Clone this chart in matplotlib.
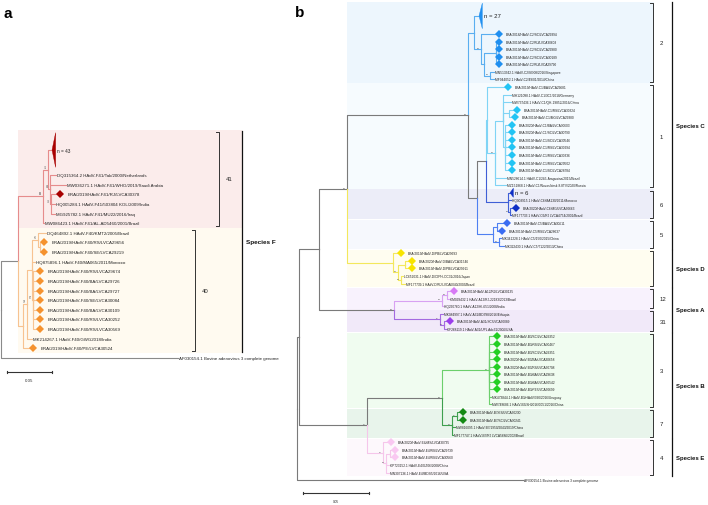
import re

import matplotlib.pyplot as plt
from matplotlib.patches import Polygon, Rectangle

plt.rcParams['font.family'] = ['Liberation Sans', 'DejaVu Sans']

# ---------------------------------------------------------------
# trees (Newick, branch lengths in substitutions/site, support after ')')
outgroup = 'AF030154.1 Bovine adenovirus 3 complete genome'

F41 = ("((n = 43:0.0044,"
       "(DQ315364.2 HAdV-F41/Tak/2000/Netherlands:0.0067,"
       "MW036271.1 HAdV-F41/WHO/2019/Saudi Arabia:0.0178,"
       "(BRA/2019/HAdV-F41/RJ/LVCA30378:0.0100,"
       "HQ005284.1 HAdV-F41/503804 KOL/2009/India:0.0044,"
       "MG925782.1 HAdV-F41/MU22/2016/Iraq:0.0044)73:0.0011)81:0.0022)71:0.0056,"
       "MW086423.1 HAdV-F41/AL-AD5460/2001/Brazil:0.0011)96")

F40 = ("((((DQ464892.1 HAdV-F40/KMT2/2005/Brazil:0.0089,"
       "(BRA/2019/HAdV-F40/RS/LVCA29656:0.0044,BRA/2019/HAdV-F40/SE/LVCA29219:0.0044):0.0022)76:0.0067,"
       "HQ875896.1 HAdV-F40/MA065/2011/Morocco:0.0033,"
       "(BRA/2019/HAdV-F40/RS/LVCA29674:0.0078,BRA/2019/HAdV-F40/BA/LVCA29726:0.0078,"
       "BRA/2019/HAdV-F40/BA/LVCA29727:0.0078,BRA/2019/HAdV-F40/SE/LVCA30084:0.0078,"
       "BRA/2019/HAdV-F40/BA/LVCA30109:0.0078,BRA/2019/HAdV-F40/RS/LVCA30252:0.0078,"
       "BRA/2019/HAdV-F40/RS/LVCA30569:0.0078)87:0.0011):0.0056,"
       "MK214267.1 HAdV-F40/GWG2018/India:0.0056)97:0.0044,"
       "BRA/2019/HAdV-F40/PE/LVCA30524:0.0111)")

C2 = ("(n = 27:0.0038,"
      "(BRA/2018/HAdV-C2/SC/LVCA29394:0.0136,"
      "((BRA/2019/HAdV-C2/RJ/LVCA30603:0.0023,BRA/2019/HAdV-C2/SC/LVCA29980:0.0023,"
      "BRA/2019/HAdV-C2/SC/LVCA30189:0.0023,BRA/2019/HAdV-C2/RJ/LVCA29790:0.0023):0.0091,"
      "(MN513342.1 HAdV-C2/SG08/2016/Singapore:0.0030,"
      "MF944052.1 HAdV-C2/49/01/2014/China:0.0030)99:0.0045):0.0023)99:0.0053)")

C1 = ("(BRA/2019/HAdV-C1/BA/LVCA29681:0.0159,"
      "((MH121098.1 HAdV-C1/3C1/2018/Germany:0.0061,"
      "MW737436.1 HAdV-C1/QH-19852/2016/China:0.0061,"
      "(BRA/2019/HAdV-C1/RS/LVCA30324:0.0061,BRA/2019/HAdV-C1/MG/LVCA29380:0.0045):0.0045,"
      "(BRA/2020/HAdV-C1/BA/LVCA30603:0.0053,BRA/2020/HAdV-C1/SC/LVCA30790:0.0053,"
      "BRA/2019/HAdV-C1/SC/LVCA30546:0.0053,BRA/2019/HAdV-C1/RS/LVCA30294:0.0053,"
      "BRA/2019/HAdV-C1/RS/LVCA30336:0.0053,BRA/2019/HAdV-C1/RS/LVCA29502:0.0053,"
      "BRA/2019/HAdV-C1/SC/LVCA28784:0.0053):0.0015):0.0061,"
      "MN528614.1 HAdV-C1/245-Araguaina/2015/Brazil:0.0083,"
      "MZ151868.1 HAdV-C1/Novosibirsk-8.8TV/2020/Russia:0.0083)99:0.0061)")

C6 = ("(n = 6:0.0015,HQ003915.1 HAdV-C6/MA130/2011/Morocco:0.0023,"
      "(BRA/2020/HAdV-C6/MG/LVCA30663:0.0045,"
      "MF177733.1 HAdV-C6/RJ LVCA4754/2001/Brazil:0.0008)99:0.0015)")

C5 = ("((BRA/2019/HAdV-C5/BA/LVCA30611:0.0076,BRA/2019/HAdV-C5/RS/LVCA28637:0.0038):0.0030,"
      "(MK341228.1 HAdV-C5/150/2015/China:0.0015,"
      "MK322430.1 HAdV-C5/7122/2013/China:0.0038)99:0.0045)")

D = ("(BRA/2019/HAdV-D/PB/LVCA29693:0.0061,"
     "((BRA/2020/HAdV-D/BA/LVCA31546:0.0053,BRA/2019/HAdV-D/PB/LVCA29911:0.0053):0.0053,"
     "(LC652031.1 HAdV-D/OIPH-OC31/2016/Japan:0.0015,"
     "MF177739.1 HAdV-D/RJ LVCA6040/2003/Brazil:0.0030)99:0.0023)99:0.0038)")

A12 = ("((BRA/2019/HAdV-A12/RJ/LVCA30135:0.0053,"
       "KM099432.1 HAdV-A12/RJ-22183/2013/Brazil:0.0015)99:0.0038,"
       "HQ260760.1 HAdV-A12/HI-651/2008/India:0.0008)99")

A31 = ("(MK084997.1 HAdV-A31/BD398/2016/Ethiopia:0.0023,"
       "(BRA/2019/HAdV-A31/SC/LVCA30089:0.0045,"
       "KF268119.1 HAdV-A31/UPL Adc31/2006/USA:0.0015)99:0.0030)71")

B3 = ("(BRA/2019/HAdV-B3/SC/LVCA29352:0.0061,BRA/2019/HAdV-B3/RS/LVCA30467:0.0061,"
      "BRA/2019/HAdV-B3/SC/LVCA29351:0.0061,BRA/2020/HAdV-B3/BA/LVCA30658:0.0061,"
      "BRA/2020/HAdV-B3/RS/LVCA30708:0.0061,BRA/2019/HAdV-B3/BA/LVCA29638:0.0061,"
      "BRA/2019/HAdV-B3/BA/LVCA30542:0.0061,BRA/2019/HAdV-B3/PE/LVCA30699:0.0061,"
      "MK473844.1 HAdV-B3/HAdV/390/2016/Uruguay:0.0015,"
      "MW748686.1 HAdV-B3/SH2016/0051/2016/China:0.0015)99")

B7 = ("((BRA/2019/HAdV-B7/ES/LVCA30230:0.0045,BRA/2019/HAdV-B7/SC/LVCA30241:0.0045)71:0.0038,"
      "MW816095.1 HAdV-B7/1950/2043/2019/China:0.0023,"
      "MF177747.1 HAdV-B7/RJ LVCA5686/2002/Brazil:0.0008)99")

E4 = ("(BRA/2020/HAdV-E4/MS/LVCA30735:0.0061,"
      "((BRA/2019/HAdV-E4/RS/LVCA29739:0.0038,BRA/2019/HAdV-E4/RS/LVCA30560:0.0038):0.0030,"
      "KP723152.1 HAdV-E4/GZ06/2008/China:0.0023,"
      "MN307136.1 HAdV-E4/MDS5/2016/USA:0.0023)99:0.0023)97")

tree_a = f"(({F41}:0.0278,{F40}:0.0056):0.0189,{outgroup}:0.1967)"
tree_b = (f"((((({C2}:0.0045,(({C1}:0.0008,{C6}:0.0167):0.0068,{C5}:0.0121):0.0068)99:0.0917,"
          f"{D}:0.0348)99:0.0212,({A12}:0.0364,{A31}:0.0348)99:0.0568):0.0152,"
          f"(({B3}:0.0356,{B7}:0.0076)99:0.0568,{E4}:0.0121)97:0.0515):0.0015,"
          f"{outgroup}:0.1712)")

# collapsed clades: type, slots taken, triangle height (slots)
collapsed = {'n = 43': ('F41', 4.2, 3.6), 'n = 27': ('C2', 3.8, 3.4), 'n = 6': ('C6', 1.0, 1.2)}

line_colors = {'F41': '#e68c8c', 'F40': '#f7c391', 'C2': '#5aaef0', 'C1': '#7fd4f5',
               'C6': '#3f5fd6', 'C5': '#4f80f2', 'D': '#f3e85c', 'A12': '#d8a2f2',
               'A31': '#a46ae0', 'B3': '#6ccf6c', 'B7': '#3f9f4f', 'E4': '#f5c6ea'}
marker_colors = {'F41': '#a80000', 'F40': '#f5922e', 'C2': '#1f8ff0', 'C1': '#22c4f4',
                 'C6': '#0d2ec4', 'C5': '#3a6cf2', 'D': '#f7e400', 'A12': '#d77af5',
                 'A31': '#9b3deb', 'B3': '#22cf22', 'B7': '#148a14', 'E4': '#f9c8f1'}
band_colors = {'F41': '#fbeceb', 'F40': '#fffaf0', 'C2': '#edf6fd', 'C1': '#f6fbfe',
               'C6': '#ecedf8', 'C5': '#f6f8fd', 'D': '#fffdf0', 'A12': '#f8f2fd',
               'A31': '#f1e9f9', 'B3': '#f0fcf0', 'B7': '#e8f4eb', 'E4': '#fdf8fc'}
type_numbers = {'F41': '41', 'F40': '40', 'C2': '2', 'C1': '1', 'C6': '6', 'C5': '5',
                'D': '', 'A12': '12', 'A31': '31', 'B3': '3', 'B7': '7', 'E4': '4'}
species_a = {'Species F': ['F41', 'F40']}
species_b = {'Species C': ['C2', 'C1', 'C6', 'C5'], 'Species D': ['D'],
             'Species A': ['A12', 'A31'], 'Species B': ['B3', 'B7'], 'Species E': ['E4']}
scale_len = 0.05


# ---------------------------------------------------------------
def parse(s):
    pos = 0
    name_re = re.compile(r'[^:,()]*')
    num_re = re.compile(r'[-0-9.eE]+')

    def node():
        nonlocal pos
        n = {'children': [], 'name': '', 'bl': 0.0}
        if s[pos] == '(':
            pos += 1
            while True:
                n['children'].append(node())
                if s[pos] == ',':
                    pos += 1
                    continue
                pos += 1
                break
        m = name_re.match(s, pos)
        n['name'] = m.group().strip()
        pos = m.end()
        if pos < len(s) and s[pos] == ':':
            m = num_re.match(s, pos + 1)
            n['bl'] = float(m.group())
            pos = m.end()
        return n
    return node()


def leaf_type(name):
    if name in collapsed:
        return collapsed[name][0]
    m = re.search(r'HAdV-([A-F]\d*)/', name)
    return m.group(1) if m else None


def layout(n, depth, cursor):
    n['x'] = depth + n['bl']
    if not n['children']:
        w = collapsed[n['name']][1] if n['name'] in collapsed else 1.0
        n['y'] = cursor[0] + (w - 1) / 2
        n['y0'], n['y1'] = cursor[0] - 0.5, cursor[0] + w - 0.5
        cursor[0] += w
        n['type'] = leaf_type(n['name'])
        return {n['type']}
    types = set()
    for c in n['children']:
        types |= layout(c, n['x'], cursor)
    n['y'] = (n['children'][0]['y'] + n['children'][-1]['y']) / 2
    n['type'] = types.pop() if len(types) == 1 else None
    return types if n['type'] is None else {n['type']}


def leaves(n):
    if not n['children']:
        return [n]
    return [l for c in n['children'] for l in leaves(c)]


def draw_tree(ax, n, cfg):
    for c in n['children']:
        col = line_colors.get(c['type'], cfg['grey'])
        ax.plot([n['x'], n['x'], c['x']], [n['y'], c['y'], c['y']], color=col,
                lw=cfg['lw'], zorder=2)
        draw_tree(ax, c, cfg)
    if n['children']:
        if n['name']:
            ax.annotate(n['name'], (n['x'], n['y']), xytext=(-0.8, 0.8),
                        textcoords='offset points', ha='right', va='bottom',
                        fontsize=cfg['sup_fs'], color='#555555', zorder=4)
        return
    name, x, y = n['name'], n['x'], n['y']
    if name in collapsed:
        t, w, h = collapsed[name]
        tw = cfg['tri_w']
        ax.add_patch(Polygon([(x, y), (x + tw, y - h / 2), (x + tw, y + h / 2)],
                             closed=True, fc=marker_colors[t], ec=marker_colors[t],
                             lw=0.3, zorder=3))
        ax.annotate(name, (x + tw, y), xytext=(1, 0), textcoords='offset points',
                    va='center', fontsize=cfg['n_fs'], color='#222222', zorder=4)
    elif name.startswith('BRA/'):
        ax.plot(x, y, 'D', ms=cfg['ms'], color=marker_colors[n['type']], mew=0, zorder=3)
        ax.annotate(name, (x, y), xytext=(cfg['dia_off'], 0), textcoords='offset points',
                    va='center', fontsize=cfg['fs'], color='#222222', zorder=4)
    else:
        ax.annotate(name, (x, y), xytext=(cfg['txt_off'], 0), textcoords='offset points',
                    va='center', fontsize=cfg['fs'], color='#222222', zorder=4)


def type_span(root, t):
    ls = [l for l in leaves(root) if l['type'] == t]
    return min(l['y0'] for l in ls), max(l['y1'] for l in ls)


def draw_panel(ax, root, cfg, species):
    cursor = [0.0]
    layout(root, 0.0, cursor)
    bx0, bx1 = cfg['band_x']
    for sp, types in species.items():
        for t in types:
            y0, y1 = type_span(root, t)
            ax.add_patch(Rectangle((bx0, y0 + 0.04), bx1 - bx0, y1 - y0 - 0.08,
                                   fc=band_colors[t], ec='none', zorder=0))
            bx = cfg['bracket_x'][t] if isinstance(cfg['bracket_x'], dict) else cfg['bracket_x']
            tk = cfg['tick']
            ax.plot([bx - tk, bx, bx, bx - tk], [y0 + 0.2, y0 + 0.2, y1 - 0.2, y1 - 0.2],
                    color='#333333', lw=0.7, zorder=2)
            if type_numbers[t]:
                ax.annotate(type_numbers[t], (bx, (y0 + y1) / 2), xytext=(cfg['num_off'], 0),
                            textcoords='offset points', va='center',
                            fontsize=cfg['num_fs'], color='#222222')
        s0 = min(type_span(root, t)[0] for t in types)
        s1 = max(type_span(root, t)[1] for t in types)
        sx = cfg['species_x']
        ax.plot([sx, sx], [s0 + 0.1, s1 - 0.1], color='#111111', lw=0.9, zorder=2)
        ax.annotate(sp, (sx, (s0 + s1) / 2), xytext=(2.6, 0), textcoords='offset points',
                    va='center', fontsize=cfg['sp_fs'], fontweight='bold', color='#111111')
    draw_tree(ax, root, cfg)
    # scale bar
    x0, ys = cfg['scale_pos']
    ax.plot([x0, x0 + scale_len], [ys, ys], color='#333333', lw=0.8)
    for xe in (x0, x0 + scale_len):
        ax.plot([xe, xe], [ys - 0.15, ys + 0.15], color='#333333', lw=0.8)
    ax.annotate(f'{scale_len:.2f}', (x0 + scale_len / 2, ys), xytext=(0, -4.5),
                textcoords='offset points', ha='center', va='top',
                fontsize=cfg['fs'], color='#333333')


W, H = 708, 506
fig = plt.figure(figsize=(W / 100, H / 100), dpi=100)


def panel_axes(px0, sx, py0, dy):
    ax = fig.add_axes([0, 0, 1, 1])
    ax.set_xlim(-px0 / sx, (W - px0) / sx)
    ax.set_ylim((H - py0) / dy, -py0 / dy)
    ax.axis('off')
    return ax


cfg_a = dict(grey='#8a8a8a', lw=0.8, fs=3.2, sup_fs=2.0, n_fs=3.4, ms=4.3, dia_off=5.8,
             txt_off=1.0, tri_w=0.004, band_x=(0.0189, 0.2678),
             bracket_x={'F41': 0.2422, 'F40': 0.2156}, tick=0.0035, num_off=5,
             num_fs=4.3, species_x=0.2683, sp_fs=4.6, scale_pos=(0.0067, 24.65))
cfg_b = dict(grey='#7a7a7a', lw=0.8, fs=2.35, sup_fs=1.7, n_fs=4.3, ms=3.6, dia_off=5.0,
             txt_off=0.7, tri_w=0.0025, band_x=(0.0379, 0.2705),
             bracket_x=0.2697, tick=0.0025, num_off=5, num_fs=4.3,
             species_x=0.2841, sp_fs=4.3, scale_pos=(0.0045, 64.5))

ax_a = panel_axes(1, 900, 135.6, 9.63)
draw_panel(ax_a, parse(tree_a), cfg_a, species_a)
ax_b = panel_axes(297, 1320, 6.3, 7.56)
draw_panel(ax_b, parse(tree_b), cfg_b, species_b)

fig.text(3 / W, 1 - 14 / H, 'a', fontsize=11, fontweight='bold', va='center')
fig.text(295 / W, 1 - 13 / H, 'b', fontsize=11, fontweight='bold', va='center')

fig.savefig('out.png', dpi=100)
